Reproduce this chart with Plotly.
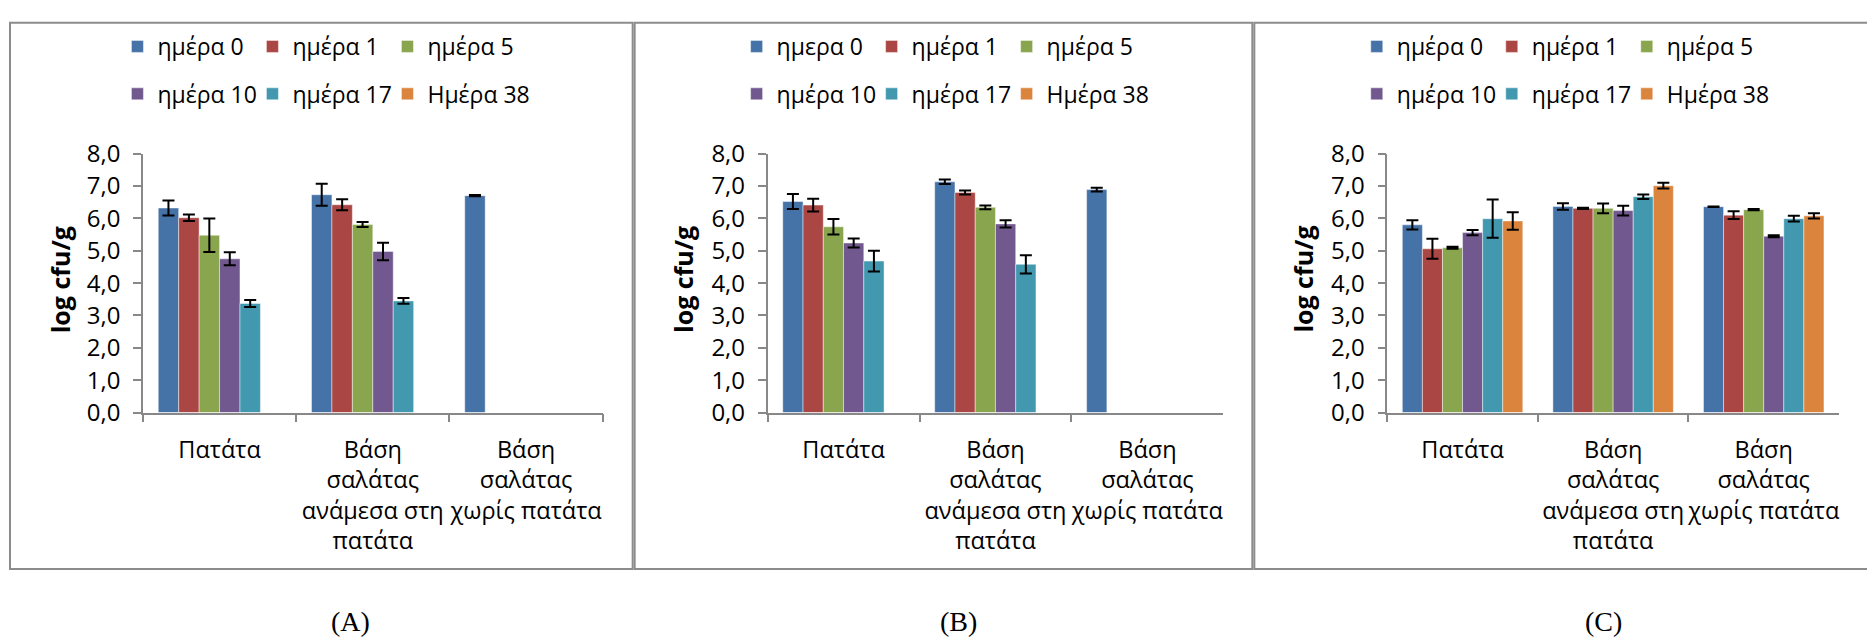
import plotly.graph_objects as go

W, H = 1867, 641

categories = ["Πατάτα",
              "Βάση<br>σαλάτας<br>ανάμεσα στη<br>πατάτα",
              "Βάση<br>σαλάτας<br>χωρίς πατάτα"]

colors = ["#4572A7", "#AA4643", "#89A54E", "#71588F", "#4198AF", "#DB843D"]

names_A = ["ημέρα 0", "ημέρα 1", "ημέρα 5", "ημέρα 10", "ημέρα 17", "Ημέρα 38"]
names_B = ["ημερα 0", "ημέρα 1", "ημέρα 5", "ημέρα 10", "ημέρα 17", "Ημέρα 38"]
names_C = ["ημέρα 0", "ημέρα 1", "ημέρα 5", "ημέρα 10", "ημέρα 17", "Ημέρα 38"]

# Panel A values (per day, per category)
A_vals = [[6.32, 6.73, 6.70],
          [6.02, 6.42, None],
          [5.48, 5.81, None],
          [4.75, 4.98, None],
          [3.37, 3.45, None],
          [None, None, None]]
A_err = [[0.23, 0.34, 0.02],
         [0.10, 0.17, None],
         [0.52, 0.08, None],
         [0.20, 0.27, None],
         [0.11, 0.09, None],
         [None, None, None]]

# Panel B values
B_vals = [[6.52, 7.13, 6.89],
          [6.41, 6.80, None],
          [5.74, 6.34, None],
          [5.24, 5.83, None],
          [4.68, 4.58, None],
          [None, None, None]]
B_err = [[0.23, 0.07, 0.06],
         [0.20, 0.06, None],
         [0.24, 0.06, None],
         [0.14, 0.11, None],
         [0.32, 0.28, None],
         [None, None, None]]

# Panel C values
C_vals = [[5.80, 6.37, 6.36],
          [5.06, 6.31, 6.10],
          [5.09, 6.31, 6.27],
          [5.56, 6.24, 5.45],
          [5.99, 6.67, 5.99],
          [5.92, 7.01, 6.08]]
C_err = [[0.14, 0.10, 0.01],
         [0.31, 0.02, 0.12],
         [0.03, 0.15, 0.02],
         [0.08, 0.15, 0.03],
         [0.59, 0.07, 0.09],
         [0.27, 0.09, 0.08]]

y_ticks = [0, 1, 2, 3, 4, 5, 6, 7, 8]
panel_labels = ["(A)", "(B)", "(C)"]

FONT = "Open Sans"

# layout geometry (pixels)
plot_x = [(143, 603), (768, 1224), (1388, 1840)]
plot_y = (143, 416)
legend_x = [117.5, 737, 1357.5]
legend_rows_y = [30, 80]
panel_boxes = [(10, 633), (635, 1253), (1255, 1880)]
box_y = (5, 581)
label_x = [351, 959, 1604]
label_y = 636
ytitle_x = [60, 684, 1304]

def px(x):
    return x / W

def py(y):
    return 1 - y / H

fig = go.Figure()

panels = [(names_A, A_vals, A_err), (names_B, B_vals, B_err), (names_C, C_vals, C_err)]

for p, (names, vals, errs) in enumerate(panels):
    ax = "" if p == 0 else str(p + 1)
    for i in range(6):
        leg_idx = p * 2 + (0 if i < 3 else 1)
        legname = "legend" if leg_idx == 0 else "legend%d" % (leg_idx + 1)
        extra = {}
        if i in (2, 5):
            extra["legendwidth"] = 130
        fig.add_trace(go.Bar(
            x=categories, y=vals[i], name=names[i],
            marker=dict(color=colors[i], line=dict(color="rgba(255,255,255,0.45)", width=1)),
            error_y=dict(type="data", array=errs[i], visible=True,
                         color="black", thickness=2, width=6),
            xaxis="x" + ax, yaxis="y" + ax,
            legend=legname, showlegend=True, **extra
        ))

layout = dict(
    width=W, height=H, margin=dict(l=0, r=0, t=0, b=0),
    paper_bgcolor="white", plot_bgcolor="white",
    barmode="group", bargap=0.2, bargroupgap=0,
    separators=",.",
    font=dict(family=FONT, size=23, color="black"),
    shapes=[], annotations=[],
)

for p in range(3):
    ax = "" if p == 0 else str(p + 1)
    layout["xaxis" + ax] = dict(
        domain=[px(plot_x[p][0]), px(plot_x[p][1])], anchor="y" + ax,
        type="category", tickson="boundaries", ticks="outside", ticklen=8,
        tickcolor="#888888", tickwidth=1.5,
        showline=True, linecolor="#888888", linewidth=1.5,
        showgrid=False, zeroline=False,
        tickfont=dict(family=FONT, size=23.5, color="black"),
        ticklabelstandoff=15,
        tickangle=0, fixedrange=True,
    )
    layout["yaxis" + ax] = dict(
        domain=[py(plot_y[1]), py(plot_y[0])], anchor="x" + ax,
        range=[0, 8], tickmode="array", tickvals=y_ticks, tickformat=".1f",
        ticks="outside", ticklen=8, tickcolor="#888888", tickwidth=1.5,
        showline=True, linecolor="#888888", linewidth=1.5,
        showgrid=False, zeroline=False,
        tickfont=dict(family=FONT, size=24, color="black"),
        ticklabelstandoff=8,
        fixedrange=True,
    )
    for r in range(2):
        leg_idx = p * 2 + r
        legname = "legend" if leg_idx == 0 else "legend%d" % (leg_idx + 1)
        layout[legname] = dict(
            orientation="h", x=px(legend_x[p]), xanchor="left",
            y=py(legend_rows_y[r]), yanchor="middle",
            entrywidth=90, entrywidthmode="pixels",
            font=dict(family=FONT, size=23, color="black"),
            bgcolor="rgba(0,0,0,0)", borderwidth=0,
            traceorder="normal", itemclick=False, itemdoubleclick=False,
        )
    x0, x1 = panel_boxes[p]
    layout["shapes"].append(dict(
        type="rect", xref="paper", yref="paper",
        x0=px(x0), x1=px(x1), y0=py(box_y[1]), y1=py(box_y[0]),
        line=dict(color="#8c8c8c", width=2), fillcolor="rgba(0,0,0,0)", layer="below",
    ))
    layout["annotations"].append(dict(
        text=panel_labels[p], xref="paper", yref="paper",
        x=px(label_x[p]), y=py(label_y), xanchor="center", yanchor="middle",
        showarrow=False, font=dict(family="Liberation Serif", size=28, color="black"),
    ))
    layout["annotations"].append(dict(
        text="<b>log cfu/g</b>", xref="paper", yref="paper",
        x=px(ytitle_x[p]), y=py((plot_y[0] + plot_y[1]) / 2 - 4),
        xanchor="center", yanchor="middle", textangle=-90,
        showarrow=False, font=dict(family=FONT, size=25, color="black"),
    ))

fig.update_layout(**layout)
fig.write_html("out.html")
